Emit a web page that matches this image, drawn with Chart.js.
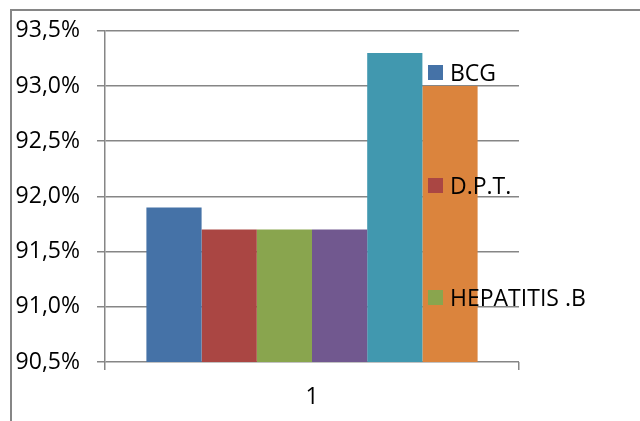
<!DOCTYPE html>
<html>
<head>
<meta charset="utf-8">
<script src="https://cdn.jsdelivr.net/npm/chart.js@4"></script>
<style>
    body { margin: 0; background: #fff; }
    #wrap { position: relative; width: 640px; height: 421px; overflow: hidden; }
    #frame {
        position: absolute; left: 10px; top: 9px; width: 700px; height: 500px;
        border-top: 2px solid #868686; border-left: 2px solid #868686;
    }
    #legend { position: absolute; left: 428px; top: 0; font-family: "Open Sans", sans-serif; font-size: 23px; color: #000; }
    .item { position: absolute; left: 0; white-space: nowrap; display: flex; align-items: center; height: 24px; }
    .box { width: 15px; height: 15px; margin-right: 7px; }
</style>
</head>
<body>
<div id="wrap">
    <div id="frame"></div>
    <canvas id="chart" width="640" height="421"></canvas>
    <div id="legend"></div>
</div>
<script>
// chart data
const categories = ['1'];
const seriesNames = ['BCG', 'D.P.T.', 'HEPATITIS .B', 'POLIO', 'MEASLES', 'VITAMINE A'];
const seriesValues = [91.9, 91.7, 91.7, 91.7, 93.3, 93.0];
const seriesColors = ['#4572A7', '#AA4643', '#89A54E', '#71588F', '#4198AF', '#DB843D'];
const yTicks = [90.5, 91.0, 91.5, 92.0, 92.5, 93.0, 93.5];
// only the first three names fit in the legend of the original
const legendShown = 3;
const legendTops = [60, 173, 285];

const gridColor = '#868686';
const fontFamily = '"Open Sans", sans-serif';

const ctx = document.getElementById('chart').getContext('2d');
const chart = new Chart(ctx, {
    type: 'bar',
    data: {
        labels: categories,
        datasets: seriesNames.map((name, i) => ({
            label: name,
            data: [seriesValues[i]],
            backgroundColor: seriesColors[i],
            borderWidth: 0,
            categoryPercentage: 0.8,
            barPercentage: 1.0
        }))
    },
    options: {
        responsive: false,
        animation: false,
        layout: { padding: { left: 0, right: 121, top: 26, bottom: 0 } },
        plugins: {
            legend: { display: false },
            tooltip: { enabled: false }
        },
        scales: {
            x: {
                afterFit: s => { s.height = 59; },
                grid: {
                    offset: true,
                    drawOnChartArea: false,
                    drawTicks: true,
                    tickLength: 8,
                    color: gridColor,
                    lineWidth: 1.5
                },
                border: { display: false },
                ticks: { color: '#000', padding: 14, font: { family: fontFamily, size: 23 } }
            },
            y: {
                min: 90.5,
                max: 93.5,
                afterFit: s => { s.width = 105; },
                afterBuildTicks: s => { s.ticks = yTicks.map(v => ({ value: v })); },
                grid: { color: gridColor, lineWidth: 1.5, tickLength: 8 },
                border: { color: gridColor, width: 1.5 },
                ticks: {
                    color: '#000',
                    padding: 17,
                    font: { family: fontFamily, size: 23 },
                    callback: v => v.toFixed(1).replace('.', ',') + '%'
                }
            }
        }
    }
});

// legend as html, built from the series arrays
const legend = document.getElementById('legend');
for (let i = 0; i < legendShown; i++) {
    const item = document.createElement('div');
    item.className = 'item';
    item.style.top = legendTops[i] + 'px';
    item.innerHTML = '<span class="box" style="background:' + seriesColors[i] + '"></span><span>' + seriesNames[i] + '</span>';
    legend.appendChild(item);
}
</script>
</body>
</html>
